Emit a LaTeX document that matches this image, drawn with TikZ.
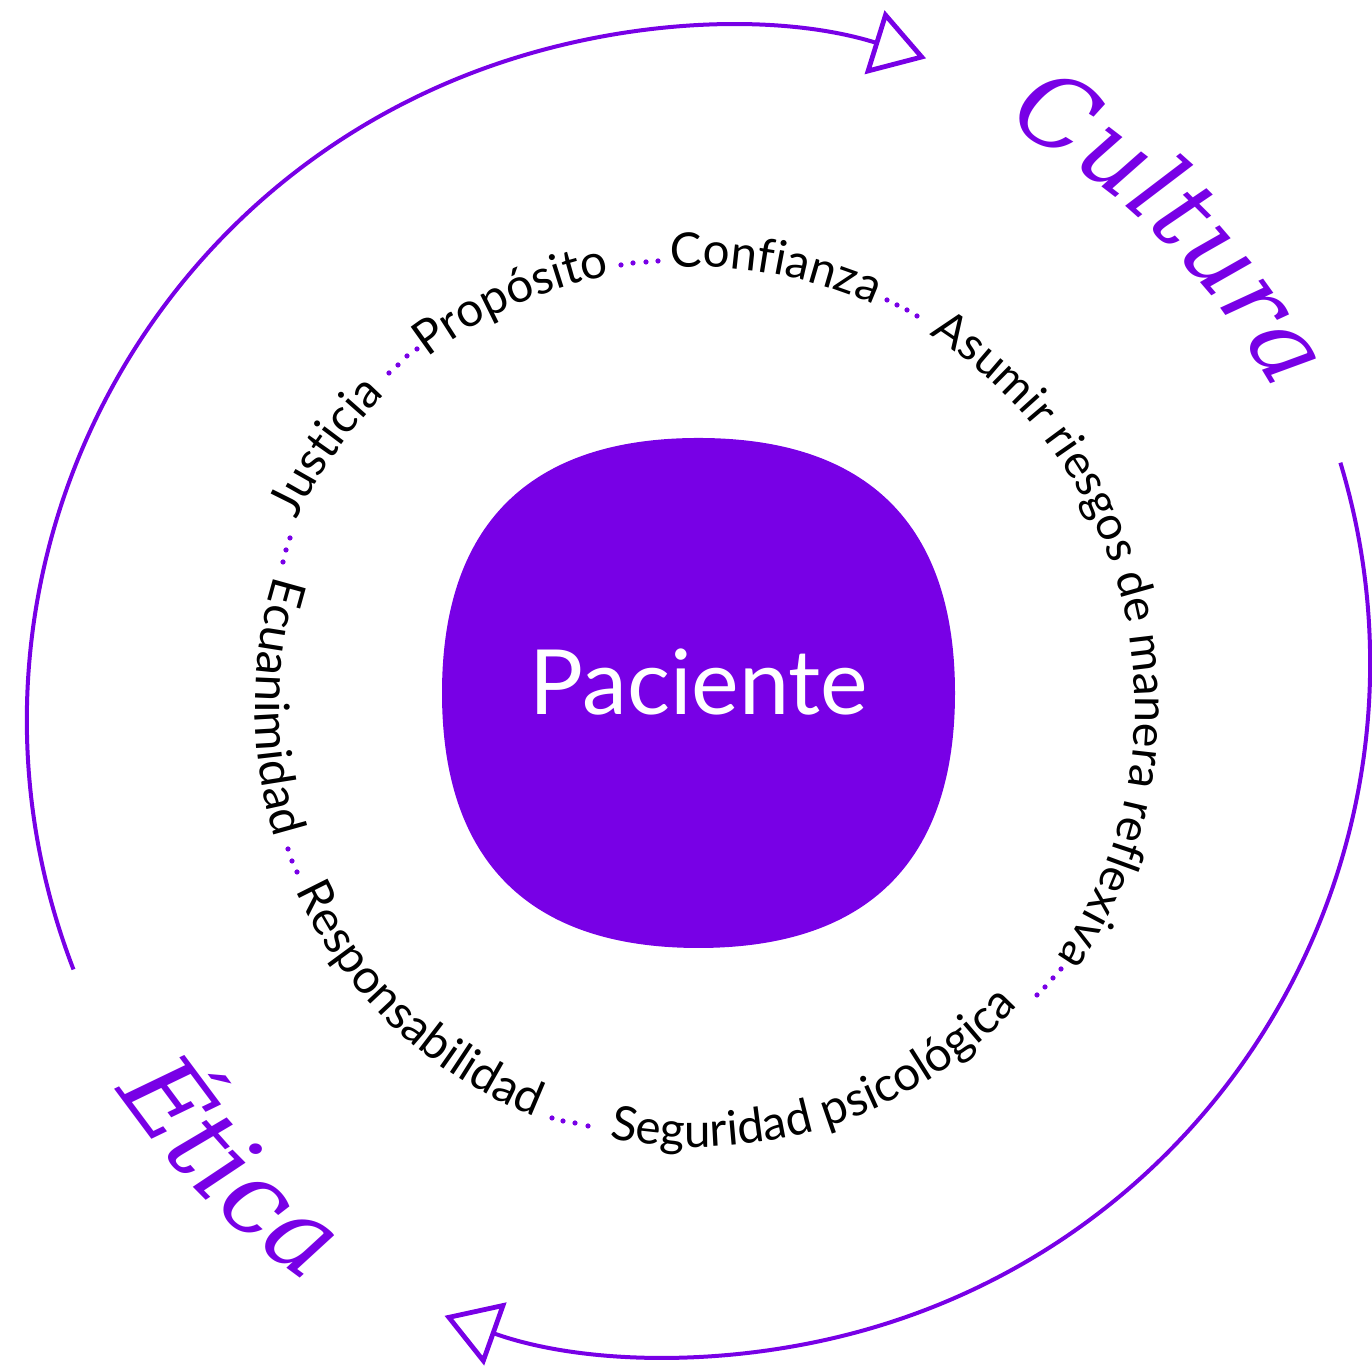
\documentclass[tikz,border=0pt]{standalone}
\usepackage{fontspec}
\setmainfont{Lato}
\newfontfamily\titlefont{DejaVu Serif}
\usetikzlibrary{decorations.text,arrows.meta}
\definecolor{purp}{RGB}{120,0,230}
\newcommand\ringsize{\fontsize{23.8}{28}\selectfont}
\newcommand\ringsizeb{\fontsize{23.2}{28}\selectfont}
\newcommand\bigsize{\titlefont\itshape\fontsize{50}{60}\selectfont}
\newcommand\bigsizeb{\titlefont\itshape\fontsize{52.5}{62}\selectfont}
\begin{document}
\begin{tikzpicture}[x=0.5pt,y=0.5pt,
  outerarc/.style={draw=purp, line width=2pt},
  opentip/.style={-{Triangle[open, length=27pt, width=33pt, line width=2.4pt]}},
  dotmark/.style={fill=purp},
  blobshape/.style={fill=purp, draw=none}]
\useasboundingbox (0,0) rectangle (1372,1368);
\coordinate (O) at (695,661);
\coordinate (C1) at (720,648);
\coordinate (C2) at (677,705);
% central blob
\path[blobshape] (955,675) .. controls (955,843.3) and (867.8,930) .. (698.5,930)
  .. controls (529.2,930) and (442,843.3) .. (442,675)
  .. controls (442,506.7) and (529.2,420) .. (698.5,420)
  .. controls (867.8,420) and (955,506.7) .. (955,675) -- cycle;
\node[text=white, font=\fontsize{45}{52}\selectfont, anchor=base] (pac) at (699,653) {Paciente};
% outer arcs
\draw[outerarc, opentip] ([shift={(201.1:693)}]C1) arc[start angle=201.1, end angle=72.7, radius=693];
\draw[outerarc, opentip] ([shift={(16.8:693)}]C2) arc[start angle=16.8, end angle=-109.6, radius=693];
% ring words (top: clockwise, bottom: counterclockwise)
\path[decorate, decoration={text along path, text align=center, text={|\ringsize|Justicia}}]
  ([shift={(184.8:440)}]O) arc[start angle=184.8, end angle=104.8, radius=440];
\path[decorate, decoration={text along path, text align=center, text={|\ringsize|Propósito}}]
  ([shift={(154.3:440)}]O) arc[start angle=154.3, end angle=74.3, radius=440];
\path[decorate, decoration={text along path, text align=center, text={|\ringsize|Confianza}}]
  ([shift={(119.6:440)}]O) arc[start angle=119.6, end angle=39.6, radius=440];
\path[decorate, decoration={text along path, text align=center, text={|\ringsizeb|Asumir riesgos de manera reflexiva}}]
  ([shift={(81.6:440)}]O) arc[start angle=81.6, end angle=-58.4, radius=440];
\path[decorate, decoration={text along path, text align=center, text={|\ringsize|Seguridad psicológica}}]
  ([shift={(218:440)}]O) arc[start angle=218, end angle=358, radius=440];
\path[decorate, decoration={text along path, text align=center, text={|\ringsize|Responsabilidad}}]
  ([shift={(176.7:440)}]O) arc[start angle=176.7, end angle=276.7, radius=440];
\path[decorate, decoration={text along path, text align=center, text={|\ringsize|Ecuanimidad}}]
  ([shift={(140:440)}]O) arc[start angle=140, end angle=220, radius=440];
% big words
\path[decorate, decoration={text along path, text align=center, text color=purp, text={|\bigsize|Cultura}}]
  ([shift={(85.2:660)}]O) arc[start angle=85.2, end angle=5.2, radius=660];
\path[decorate, decoration={text along path, text align=center, text color=purp, text={|\bigsizeb|Ética}}]
  ([shift={(184.8:694)}]O) arc[start angle=184.8, end angle=264.8, radius=694];
% dotted separators
\foreach \p in {(389,995),(398,1003),(407,1012),(417,1019),
                (621,1103),(633,1105),(646,1106),(658,1107),
                (887,1068),(897,1063),(907,1058),(917,1052),
                (290,830),(286,818),(283,806),
                (288,519),(292,507),(297,496),
                (552,250),(563,247),(575,245),(588,242),
                (1037,373),(1045,381),(1053,390),(1061,399)}
  \fill[dotmark] \p circle[radius=2.6];
\end{tikzpicture}
\end{document}
